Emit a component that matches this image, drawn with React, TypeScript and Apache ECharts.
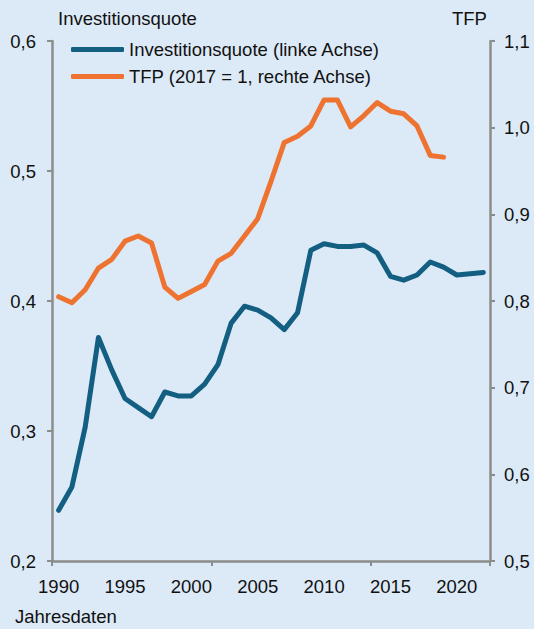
import React, { useEffect, useRef } from "react";
import * as echarts from "echarts";

const years: string[] = [];
for (let y = 1990; y <= 2022; y++) years.push(String(y));

const investitionsquote = [
  0.239, 0.257, 0.303, 0.372, 0.347, 0.325, 0.318, 0.311, 0.330, 0.327,
  0.327, 0.336, 0.351, 0.383, 0.396, 0.393, 0.387, 0.378, 0.391, 0.439,
  0.444, 0.442, 0.442, 0.443, 0.437, 0.419, 0.416, 0.420, 0.430, 0.426,
  0.420, 0.421, 0.422,
];

const tfp = [
  0.805, 0.798, 0.813, 0.838, 0.848, 0.869, 0.875, 0.867, 0.816, 0.803,
  0.811, 0.819, 0.846, 0.855, 0.875, 0.895, 0.938, 0.983, 0.990, 1.002,
  1.032, 1.032, 1.001, 1.014, 1.029, 1.019, 1.016, 1.002, 0.968, 0.966,
];

const BLUE = "#135f82";
const ORANGE = "#ee7330";
const AXIS = "#8c8c8c";
const TEXT = "#111111";
const FONT = "'Liberation Sans', Arial, sans-serif";
const FS = 18.5;

export default function App() {
  const ref = useRef<HTMLDivElement>(null);
  useEffect(() => {
    if (!ref.current) return;
    const chart = echarts.init(ref.current, undefined, { renderer: "svg" });
    const fmt = (v: number) => v.toFixed(1).replace(".", ",");
    chart.setOption({
      animation: false,
      backgroundColor: "#dce9f7",
      textStyle: { fontFamily: FONT, color: TEXT },
      grid: { left: 52, right: 44, top: 41, bottom: 68 },
      legend: {
        orient: "vertical",
        left: 71,
        top: 40,
        padding: 0,
        itemWidth: 53,
        itemHeight: 5,
        itemGap: 8,
        icon: "roundRect",
        textStyle: { fontSize: FS, color: TEXT, fontFamily: FONT },
        data: ["Investitionsquote (linke Achse)", "TFP (2017 = 1, rechte Achse)"],
      },
      graphic: [
        { type: "text", left: 58, top: 9, style: { text: "Investitionsquote", fontSize: FS, fill: TEXT, fontFamily: FONT } },
        { type: "text", left: 452, top: 9, style: { text: "TFP", fontSize: FS, fill: TEXT, fontFamily: FONT } },
        { type: "text", left: 15, top: 607, style: { text: "Jahresdaten", fontSize: FS, fill: TEXT, fontFamily: FONT } },
      ],
      xAxis: {
        type: "category",
        data: years,
        boundaryGap: true,
        axisLine: { lineStyle: { color: AXIS, width: 2.5 } },
        axisTick: { show: true, interval: 11, length: 5, lineStyle: { color: AXIS, width: 2 } },
        axisLabel: { interval: 4, fontSize: FS, color: TEXT, margin: 16, fontFamily: FONT },
        splitLine: { show: false },
      },
      yAxis: [
        {
          type: "value",
          min: 0.2,
          max: 0.6,
          interval: 0.1,
          position: "left",
          axisLine: { show: true, lineStyle: { color: AXIS, width: 2.5 } },
          axisTick: { show: true, length: 5, lineStyle: { color: AXIS, width: 2 } },
          axisLabel: { fontSize: FS, color: TEXT, margin: 16, formatter: fmt, fontFamily: FONT },
          splitLine: { show: false },
        },
        {
          type: "value",
          min: 0.5,
          max: 1.1,
          interval: 0.1,
          position: "right",
          axisLine: { show: true, lineStyle: { color: AXIS, width: 2.5 } },
          axisTick: { show: true, length: 5, lineStyle: { color: AXIS, width: 2 } },
          axisLabel: { fontSize: FS, color: TEXT, margin: 14, formatter: fmt, fontFamily: FONT },
          splitLine: { show: false },
        },
      ],
      series: [
        {
          name: "Investitionsquote (linke Achse)",
          type: "line",
          yAxisIndex: 0,
          data: investitionsquote,
          symbol: "none",
          color: BLUE,
          lineStyle: { color: BLUE, width: 5, cap: "round", join: "round" },
        },
        {
          name: "TFP (2017 = 1, rechte Achse)",
          type: "line",
          yAxisIndex: 1,
          data: tfp,
          symbol: "none",
          color: ORANGE,
          lineStyle: { color: ORANGE, width: 5, cap: "round", join: "round" },
        },
      ],
    });
    return () => chart.dispose();
  }, []);
  return (
    <div
      ref={ref}
      style={{ position: "fixed", left: 0, top: 0, width: 534, height: 629 }}
    />
  );
}
